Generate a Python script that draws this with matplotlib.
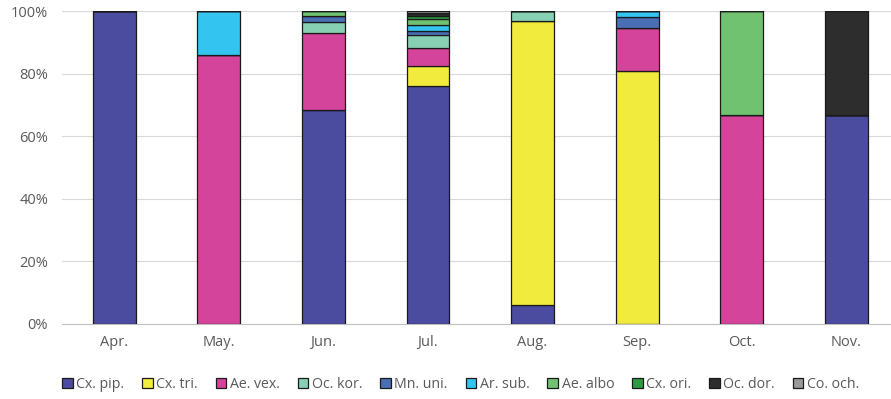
import matplotlib
matplotlib.use("Agg")
import matplotlib.pyplot as plt
import numpy as np
from matplotlib.ticker import FuncFormatter

months = ["Apr.", "May.", "Jun.", "Jul.", "Aug.", "Sep.", "Oct.", "Nov."]
species = ["Cx. pip.", "Cx. tri.", "Ae. vex.", "Oc. kor.", "Mn. uni.",
           "Ar. sub.", "Ae. albo", "Cx. ori.", "Oc. dor.", "Co. och."]

cx_pip  = [100.0, 0.0, 68.4, 76.0, 6.1, 0.0, 0.0, 66.7]
cx_tri  = [0.0, 0.0, 0.0, 6.4, 90.7, 80.8, 0.0, 0.0]
ae_vex  = [0.0, 86.0, 24.6, 5.8, 0.0, 13.8, 66.7, 0.0]
oc_kor  = [0.0, 0.0, 3.5, 4.1, 3.2, 0.0, 0.0, 0.0]
mn_uni  = [0.0, 0.0, 2.1, 1.3, 0.0, 3.5, 0.0, 0.0]
ar_sub  = [0.0, 14.0, 0.0, 1.9, 0.0, 1.9, 0.0, 0.0]
ae_albo = [0.0, 0.0, 1.4, 2.0, 0.0, 0.0, 33.3, 0.0]
cx_ori  = [0.0, 0.0, 0.0, 1.0, 0.0, 0.0, 0.0, 0.0]
oc_dor  = [0.0, 0.0, 0.0, 1.0, 0.0, 0.0, 0.0, 33.3]
co_och  = [0.0, 0.0, 0.0, 0.5, 0.0, 0.0, 0.0, 0.0]

series = [cx_pip, cx_tri, ae_vex, oc_kor, mn_uni, ar_sub, ae_albo, cx_ori, oc_dor, co_och]
colors = ["#4B4BA0", "#F0EB3C", "#D4449A", "#88D0B4", "#4A6FB5",
          "#33C4F0", "#70C270", "#2E9B44", "#2D2D2D", "#999999"]

plt.rcParams['font.family'] = ['Open Sans', 'DejaVu Sans']

fig = plt.figure(figsize=(8.91, 3.99), dpi=100)
ax = fig.add_axes([62 / 891, 0.188, 836.6 / 891, 0.784])

x = np.arange(len(months))
bottom = np.zeros(len(months))
for name, vals, c in zip(species, series, colors):
    v = np.array(vals) / 100.0
    ax.bar(x, v, bottom=bottom, width=0.41, color=c, edgecolor="#1a1a1a",
           linewidth=0.9, label=name, zorder=3)
    bottom += v

ax.set_ylim(0, 1.0)
ax.set_xlim(-0.5, len(months) - 0.5)
ax.set_yticks(np.arange(0, 1.01, 0.2))
ax.yaxis.set_major_formatter(FuncFormatter(lambda v, p: f"{v*100:.0f}%"))
ax.set_xticks(x)
ax.set_xticklabels(months)
ax.grid(axis="y", color="#d9d9d9", linewidth=0.8, zorder=0)
for s in ["top", "right", "left"]:
    ax.spines[s].set_visible(False)
ax.spines["bottom"].set_color("#bfbfbf")
ax.tick_params(axis="both", length=0, colors="#595959", labelsize=10.5)
ax.tick_params(axis="x", pad=8)
ax.tick_params(axis="y", pad=10)

fig.legend(loc="lower center", bbox_to_anchor=(0.517, -0.015), ncol=10,
           frameon=False, fontsize=10.2, handlelength=0.75, handleheight=0.75,
           handletextpad=0.25, columnspacing=1.26, labelcolor="#595959")
fig.savefig("out.png", dpi=100)
